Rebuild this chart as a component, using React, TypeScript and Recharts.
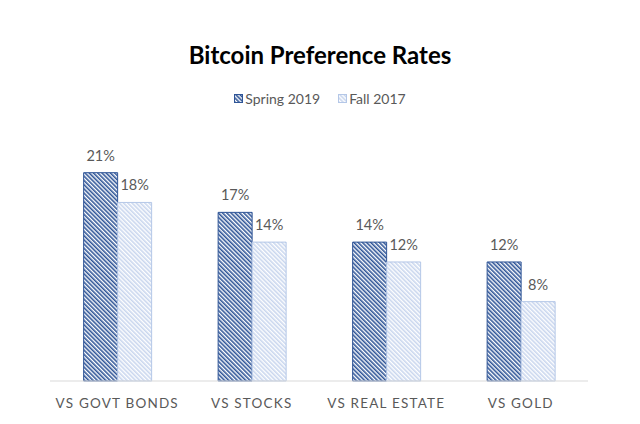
import React from "react";
import { BarChart, Bar, XAxis, YAxis, LabelList } from "recharts";

const categories = ["VS GOVT BONDS", "VS STOCKS", "VS REAL ESTATE", "VS GOLD"];
const spring2019 = [21, 17, 14, 12];
const fall2017 = [18, 14, 12, 8];
const seriesNames = ["Spring 2019", "Fall 2017"];

const data = categories.map((name, i) => ({
  name,
  spring: spring2019[i],
  fall: fall2017[i],
}));

const textGray = "#595959";

const Patterns = () => (
  <defs>
    <pattern id="darkHatch" width="3" height="3" patternUnits="userSpaceOnUse" patternTransform="rotate(-45)">
      <rect width="3" height="3" fill="#ffffff" />
      <rect width="1.6" height="3" fill="#2f5597" />
    </pattern>
    <pattern id="lightHatch" width="3" height="3" patternUnits="userSpaceOnUse" patternTransform="rotate(-45)">
      <rect width="3" height="3" fill="#ffffff" />
      <rect width="1.6" height="3" fill="#c9d6ee" />
    </pattern>
  </defs>
);

// legend drawn by hand so it doesn't push the plot down
const LegendContent = () => (
  <div
    style={{
      position: "absolute",
      top: 82,
      width: 624,
      display: "flex",
      justifyContent: "center",
      gap: 18,
      fontFamily: "Lato",
      fontSize: 14,
      color: textGray,
    }}
  >
    {seriesNames.map((s, i) => (
      <div key={s} style={{ display: "flex", alignItems: "center", gap: 2 }}>
        <svg width={9} height={9}>
          <rect
            x={0.5}
            y={0.5}
            width={8}
            height={8}
            fill={i === 0 ? "url(#darkHatch)" : "url(#lightHatch)"}
            stroke={i === 0 ? "#2f5597" : "#b4c7e7"}
          />
        </svg>
        <span>{s}</span>
      </div>
    ))}
  </div>
);

const App = () => {
  return (
    <div style={{ position: "relative", width: 624, height: 408 }}>
      <div
        style={{
          position: "absolute",
          top: 32,
          width: 624,
          textAlign: "center",
          fontFamily: "Lato",
          fontWeight: 700,
          fontSize: 24,
          color: "#000",
        }}
      >
        Bitcoin Preference Rates
      </div>
      <BarChart
        width={624}
        height={408}
        data={data}
        margin={{ top: 125, right: 44, bottom: 5, left: 42 }}
        barCategoryGap="25%"
        barGap={0}
      >
        <Patterns />
        <XAxis
          dataKey="name"
          axisLine={{ stroke: "#d9d9d9" }}
          tickLine={false}
          height={30}
          tick={{ fill: textGray, fontSize: 13.5, fontFamily: "Lato", letterSpacing: 1.2 }}
          tickMargin={11}
        />
        <YAxis hide domain={[0, 25]} />
        <Bar dataKey="spring" name="Spring 2019" fill="url(#darkHatch)" stroke="#2f5597" strokeWidth={1} isAnimationActive={false}>
          <LabelList dataKey="spring" position="top" offset={12} formatter={(v: number) => `${v}%`} fill={textGray} fontSize={14.5} fontFamily="Lato" />
        </Bar>
        <Bar dataKey="fall" name="Fall 2017" fill="url(#lightHatch)" stroke="#b4c7e7" strokeWidth={1} isAnimationActive={false}>
          <LabelList dataKey="fall" position="top" offset={12} formatter={(v: number) => `${v}%`} fill={textGray} fontSize={14.5} fontFamily="Lato" />
        </Bar>
      </BarChart>
      <LegendContent />
    </div>
  );
};

export default App;
